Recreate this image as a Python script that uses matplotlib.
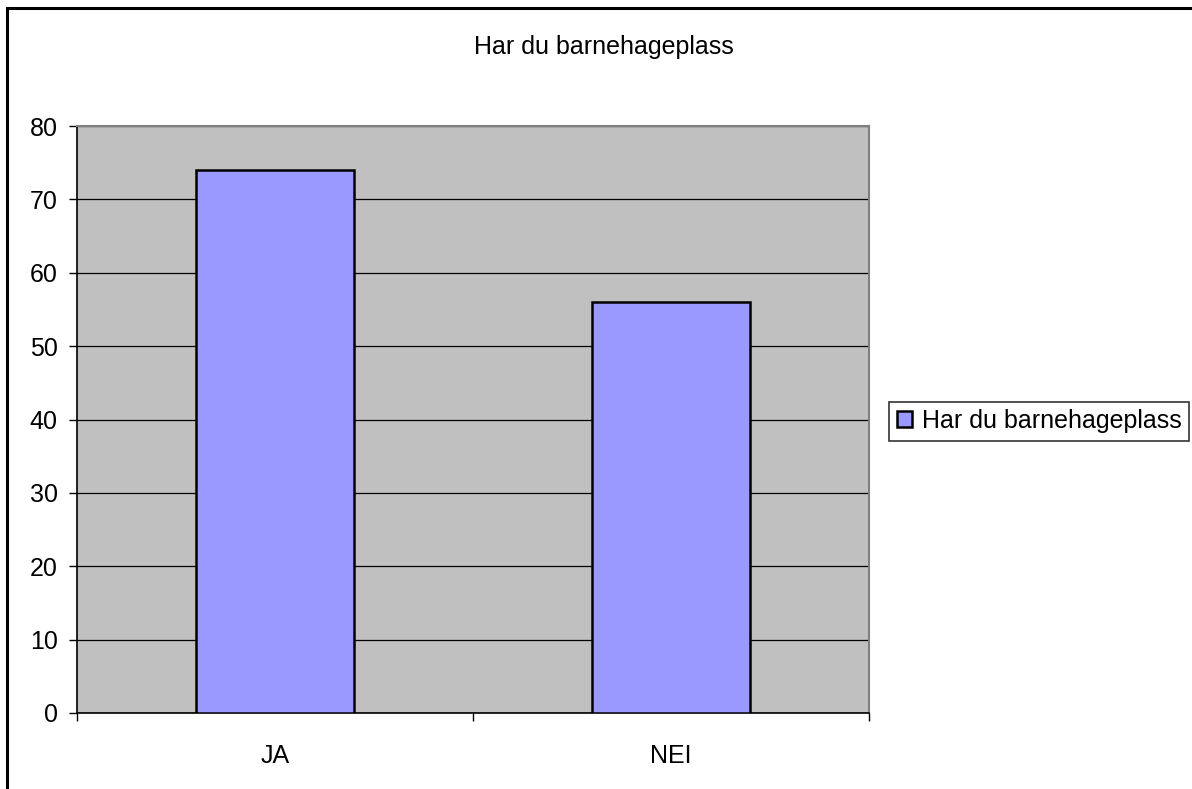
import matplotlib.pyplot as plt
from matplotlib.patches import Rectangle

plt.rcParams['font.family'] = ['Liberation Sans', 'DejaVu Sans']

categories = ['JA', 'NEI']
values = [74, 56]
series_name = 'Har du barnehageplass'
title = 'Har du barnehageplass'

W, H = 1192, 789
fig = plt.figure(figsize=(W / 100, H / 100), dpi=100)

# outer chart border (right/bottom run off the picture)
fig.patches.append(Rectangle((7.5 / W, -0.1), 1.2, 1 - 8.5 / H + 0.1,
                             transform=fig.transFigure, fill=False,
                             edgecolor='black', linewidth=2.2, zorder=0))

ax = fig.add_axes([77 / W, (H - 713) / H, (869 - 77) / W, (713 - 126) / H])
ax.set_facecolor('#C0C0C0')

pos = [i + 0.5 for i in range(len(categories))]
ax.bar(pos, values, width=0.40, color='#9999FF', edgecolor='black',
       linewidth=1.8, label=series_name, zorder=3)

ax.set_xlim(0, len(categories))
ax.set_ylim(0, 80)
ax.set_yticks(range(0, 81, 10))
ax.yaxis.grid(True, color='black', linewidth=0.9, zorder=1)
ax.set_axisbelow(True)

ax.set_xticks(range(0, len(categories) + 1))
ax.set_xticklabels([])
ax.set_xticks(pos, minor=True)
ax.set_xticklabels(categories, minor=True)
ax.tick_params(axis='x', which='major', direction='out', length=6, width=1, color='black')
ax.tick_params(axis='x', which='minor', length=0, pad=22, labelsize=18)
ax.tick_params(axis='y', direction='out', length=6, width=1, pad=8, labelsize=18)

for s in ['left', 'bottom']:
    ax.spines[s].set_color('black')
    ax.spines[s].set_linewidth(1.2)
for s in ['top', 'right']:
    ax.spines[s].set_color('#808080')
    ax.spines[s].set_linewidth(1.5)

fig.text(604 / W, 1 - 47 / H, title, ha='center', va='center', fontsize=18)

leg = ax.legend(loc='center left', bbox_to_anchor=(889 / W, 1 - 421 / H),
                bbox_transform=fig.transFigure, fontsize=18, frameon=True,
                fancybox=False, handlelength=0.6, handleheight=0.6,
                handletextpad=0.4, borderpad=0.3, borderaxespad=0)
leg.get_frame().set_edgecolor('black')
leg.get_frame().set_linewidth(1.2)

fig.savefig('out.png', dpi=100)
